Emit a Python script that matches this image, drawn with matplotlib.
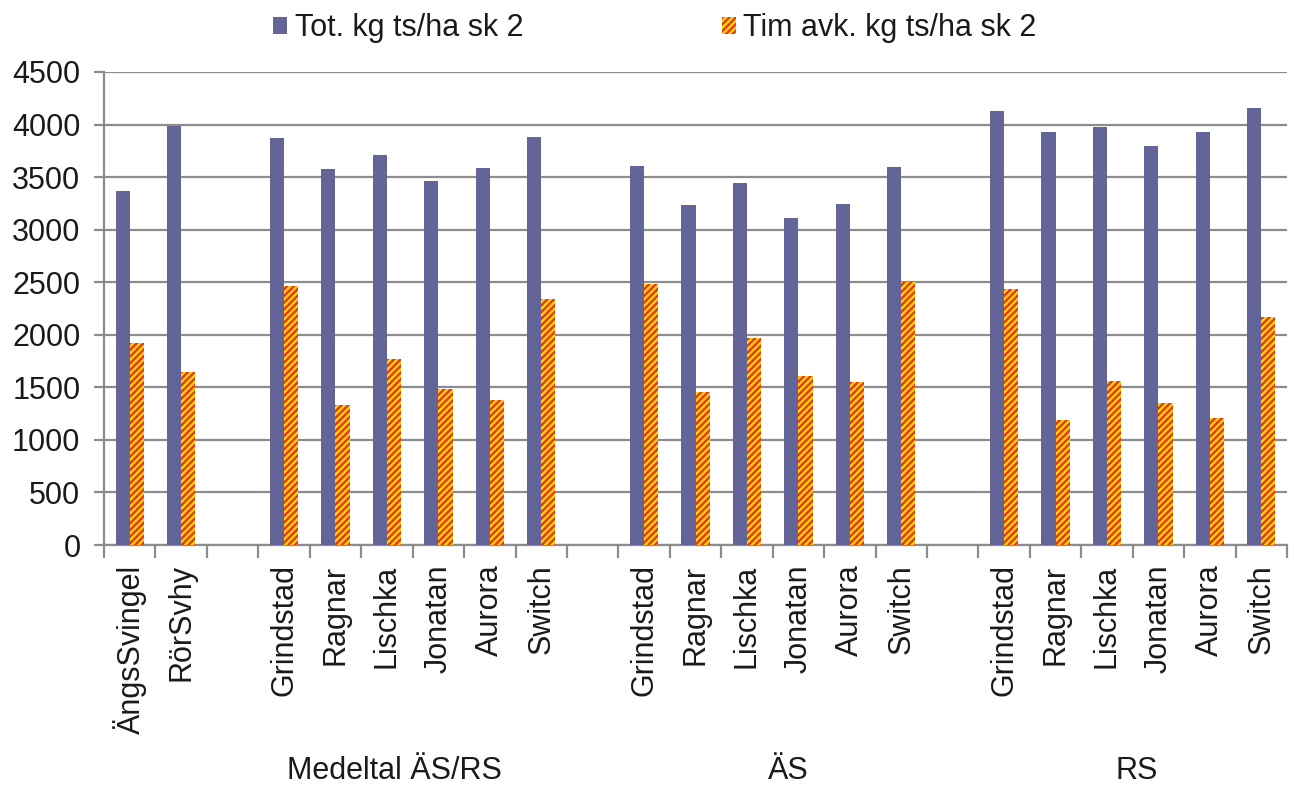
import numpy as np
import matplotlib
matplotlib.use("Agg")
import matplotlib.pyplot as plt

plt.rcParams['font.family'] = ['Liberation Sans', 'DejaVu Sans']
plt.rcParams['hatch.linewidth'] = 1.6

# slot labels, "" = empty gap between groups
labels = ["ÄngsSvingel", "RörSvhy", "",
          "Grindstad", "Ragnar", "Lischka", "Jonatan", "Aurora", "Switch", "",
          "Grindstad", "Ragnar", "Lischka", "Jonatan", "Aurora", "Switch", "",
          "Grindstad", "Ragnar", "Lischka", "Jonatan", "Aurora", "Switch"]
tot = [3370, 3990, np.nan,
       3870, 3580, 3710, 3460, 3590, 3880, np.nan,
       3610, 3230, 3440, 3110, 3240, 3600, np.nan,
       4130, 3930, 3980, 3800, 3930, 4160]
tim = [1920, 1650, np.nan,
       2460, 1330, 1770, 1480, 1380, 2340, np.nan,
       2480, 1460, 1970, 1610, 1550, 2500, np.nan,
       2440, 1190, 1560, 1350, 1210, 2170]
groups = ["Medeltal ÄS/RS", "ÄS", "RS"]
group_x = [5.15, 12.8, 19.58]

series_names = ["Tot. kg ts/ha sk 2", "Tim avk. kg ts/ha sk 2"]

blue = "#636599"
grid_c = "#8c8c8c"
txt_c = "#1a1a1a"
fs = 22

fig = plt.figure(figsize=(12.94, 7.85), dpi=100)
ax = fig.add_axes([0.0804, 0.3057, 0.9142, 0.6026])

x = np.arange(len(labels))
w = 0.275
b1 = ax.bar(x - w / 2, tot, w, color=blue, linewidth=0, zorder=3, label=series_names[0])
b2 = ax.bar(x + w / 2, tim, w, facecolor="#FFD400", edgecolor="#E8301E", hatch="/////",
            linewidth=0, zorder=3, label=series_names[1])

ax.set_xlim(-0.5, len(labels) - 0.5)
ax.set_ylim(0, 4500)
ax.set_yticks(np.arange(0, 4501, 500))
ax.yaxis.grid(True, color=grid_c, linewidth=1.6, zorder=0)

ax.set_xticks(x)
ax.set_xticklabels(labels, rotation=90, fontsize=fs, color=txt_c)
ax.set_xticks(np.arange(-0.5, len(labels)), minor=True)
ax.tick_params(axis="x", which="major", length=0, pad=14)
ax.tick_params(axis="x", which="minor", length=9, width=1.6, color=grid_c, direction="out")
ax.tick_params(axis="y", length=7, width=1.6, color=grid_c, labelsize=fs, labelcolor=txt_c, pad=10)

for s in ["top", "right"]:
    ax.spines[s].set_visible(False)
for s in ["left", "bottom"]:
    ax.spines[s].set_color(grid_c)
    ax.spines[s].set_linewidth(1.6)

for g, gx in zip(groups, group_x):
    ax.text(gx, -0.477, g, transform=ax.get_xaxis_transform(), ha="center", va="center",
            fontsize=fs, color=txt_c)

fig.legend(handles=[b1, b2], loc="center left", bbox_to_anchor=(0.19, 0.964), ncol=2,
           frameon=False, fontsize=fs, handlelength=0.45, handleheight=0.45,
           handletextpad=0.25, columnspacing=6.5, labelcolor=txt_c)

fig.savefig("out.png", dpi=100)
